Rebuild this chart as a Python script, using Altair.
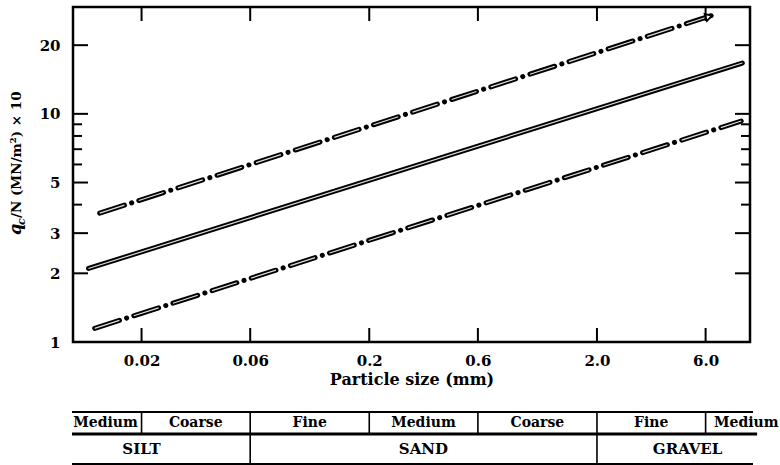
import json
import altair as alt
import pandas as pd

# ---------------- data ----------------
x_domain = [0.01, 9.4]          # particle size, mm (log)
y_domain = [1, 29.4]            # qc/N (MN/m2) x 10 (log)

x_tick_values = [0.02, 0.06, 0.2, 0.6, 2, 6]
x_tick_labels = ["0.02", "0.06", "0.2", "0.6", "2.0", "6.0"]
y_major_values = [1, 2, 3, 5, 10, 20]
y_minor_values = [4, 6, 7, 8, 9]

upper_size = [0.0131, 6.7]
upper_qcn = [3.67, 27.4]
middle_size = [0.0117, 8.7]
middle_qcn = [2.1, 16.7]
lower_size = [0.01245, 8.6]
lower_qcn = [1.148, 9.3]
arrow_size = [6.2]
arrow_qcn = [26.7]

fraction_names = ["Medium", "Coarse", "Fine", "Medium", "Coarse", "Fine", "Medium"]
fraction_label_pos = [0.0139, 0.0346, 0.1095, 0.346, 1.095, 3.46, 9.05]
fraction_bounds = [0.02, 0.06, 0.2, 0.6, 2, 6]
soil_names = ["SILT", "SAND", "GRAVEL"]
soil_label_pos = [0.02, 0.346, 5.0]
soil_bounds = [0.06, 2]
table_extent = [0.0099, 9.69]
table_mid_extent = [0.0099, 10.1]

# ---------------- layout / style ----------------
W, H = 677, 335
FONT = "DejaVu Serif"
TABLE_TOP, TABLE_MID, TABLE_BOT = 405, 427, 457
ROW1_Y, ROW2_Y = 416, 442

xscale = alt.Scale(type="log", domain=x_domain, nice=False)
yscale = alt.Scale(type="log", domain=y_domain, nice=False)

label_expr = f"{json.dumps(x_tick_labels)}[indexof({json.dumps(x_tick_values)}, datum.value)]"
xaxis = alt.Axis(values=x_tick_values, labelExpr=label_expr, ticks=False, domain=False,
                 grid=False, labelPadding=11, labelFont=FONT, labelFontSize=15,
                 labelFontWeight="bold", labelColor="black", labelFlush=False,
                 title="Particle size (mm)", titleFont=FONT, titleFontSize=16,
                 titleFontWeight="bold", titleColor="black", titlePadding=3)
yaxis = alt.Axis(values=y_major_values, format="d", ticks=False, domain=False, grid=False,
                 labelPadding=13, labelFont=FONT, labelFontSize=15, labelFontWeight="bold",
                 labelColor="black", title=None)


def X(field):
    return alt.X(field, type="quantitative", scale=xscale, axis=xaxis)


def X2(field):
    return alt.X2(field)


def Y(field):
    return alt.Y(field, type="quantitative", scale=yscale, axis=yaxis)


layers = []

# ---- the three lines (hollow look: black outer stroke + light inner stroke) ----
def line_layers(size, qcn, dashed):
    df = pd.DataFrame({"size": size, "qcn": qcn})
    outer_kw = dict(color="black", strokeWidth=5, strokeCap="round")
    inner_kw = dict(color="#dedede", strokeWidth=1.2, strokeCap="butt")
    if dashed:
        outer_kw["strokeDash"] = [26, 7.5, 0.1, 7.5]
        inner_kw["strokeDash"] = [26, 15.1]
    base = alt.Chart(df).encode(x=X("size"), y=Y("qcn"))
    return [base.mark_line(**outer_kw), base.mark_line(**inner_kw)]


layers += line_layers(upper_size, upper_qcn, True)
layers += line_layers(middle_size, middle_qcn, False)
layers += line_layers(lower_size, lower_qcn, True)

arrow_df = pd.DataFrame({"size": arrow_size, "qcn": arrow_qcn})
layers.append(alt.Chart(arrow_df).mark_point(shape="triangle-right", size=55, filled=True,
                                             fill="white", stroke="black", strokeWidth=1.8,
                                             angle=342, opacity=1)
              .encode(x=X("size"), y=Y("qcn")))

# ---- inward ticks on all four sides ----
xt = pd.DataFrame({"v": x_tick_values})
layers.append(alt.Chart(xt).mark_rule(color="black", strokeWidth=2)
              .encode(x=X("v"), y=alt.value(H), y2=alt.value(H - 14)))
layers.append(alt.Chart(xt).mark_rule(color="black", strokeWidth=2)
              .encode(x=X("v"), y=alt.value(0), y2=alt.value(14)))
ymaj = pd.DataFrame({"v": y_major_values})
ymin = pd.DataFrame({"v": y_minor_values})
for df, ln in ((ymaj, 15), (ymin, 9)):
    layers.append(alt.Chart(df).mark_rule(color="black", strokeWidth=2)
                  .encode(y=Y("v"), x=alt.value(0), x2=alt.value(ln)))
    layers.append(alt.Chart(df).mark_rule(color="black", strokeWidth=2)
                  .encode(y=Y("v"), x=alt.value(W), x2=alt.value(W - ln)))

# ---- y-axis title built from pieces (q, subscript c, rest) ----
one = pd.DataFrame({"t": ["q"]})
layers.append(alt.Chart(one).mark_text(text="q", font=FONT, fontSize=16, fontWeight="bold",
                                       fontStyle="italic", angle=270, align="left",
                                       baseline="alphabetic", color="black")
              .encode(x=alt.value(-52), y=alt.value(228)))
layers.append(alt.Chart(one).mark_text(text="c", font=FONT, fontSize=11, fontWeight="bold",
                                       fontStyle="italic", angle=270, align="left",
                                       baseline="alphabetic", color="black")
              .encode(x=alt.value(-48), y=alt.value(218)))
layers.append(alt.Chart(one).mark_text(text="/N (MN/m²) × 10", font=FONT, fontSize=13.5,
                                       fontWeight="bold", angle=270, align="left",
                                       baseline="alphabetic", color="black")
              .encode(x=alt.value(-52), y=alt.value(211)))

# ---- classification table below the axis ----
ext = pd.DataFrame({"a": [table_extent[0]], "b": [table_extent[1]]})
extm = pd.DataFrame({"a": [table_mid_extent[0]], "b": [table_mid_extent[1]]})
layers.append(alt.Chart(ext).mark_rule(color="black", strokeWidth=2)
              .encode(x=X("a"), x2=X2("b"), y=alt.value(TABLE_TOP)))
layers.append(alt.Chart(extm).mark_rule(color="black", strokeWidth=3)
              .encode(x=X("a"), x2=X2("b"), y=alt.value(TABLE_MID)))
layers.append(alt.Chart(ext).mark_rule(color="black", strokeWidth=2)
              .encode(x=X("a"), x2=X2("b"), y=alt.value(TABLE_BOT)))

fb = pd.DataFrame({"v": fraction_bounds})
layers.append(alt.Chart(fb).mark_rule(color="black", strokeWidth=1.6)
              .encode(x=X("v"), y=alt.value(TABLE_TOP), y2=alt.value(TABLE_MID)))
sb = pd.DataFrame({"v": soil_bounds})
layers.append(alt.Chart(sb).mark_rule(color="black", strokeWidth=1.6)
              .encode(x=X("v"), y=alt.value(TABLE_MID), y2=alt.value(TABLE_BOT)))

fr = pd.DataFrame({"pos": fraction_label_pos, "name": fraction_names})
layers.append(alt.Chart(fr).mark_text(font=FONT, fontSize=14, fontWeight="bold",
                                      color="black", baseline="middle")
              .encode(x=X("pos"), y=alt.value(ROW1_Y), text="name:N"))
so = pd.DataFrame({"pos": soil_label_pos, "name": soil_names})
layers.append(alt.Chart(so).mark_text(font=FONT, fontSize=15, fontWeight="bold",
                                      color="black", baseline="middle")
              .encode(x=X("pos"), y=alt.value(ROW2_Y), text="name:N"))

chart = (alt.layer(*layers)
         .properties(width=W, height=H,
                     autosize=alt.AutoSizeParams(type="none"),
                     padding={"left": 73, "top": 7, "right": 30, "bottom": 123},
                     background="white")
         .configure_view(stroke="black", strokeWidth=2.5))

chart.save("out.html", embed_options={"renderer": "svg", "actions": False})
